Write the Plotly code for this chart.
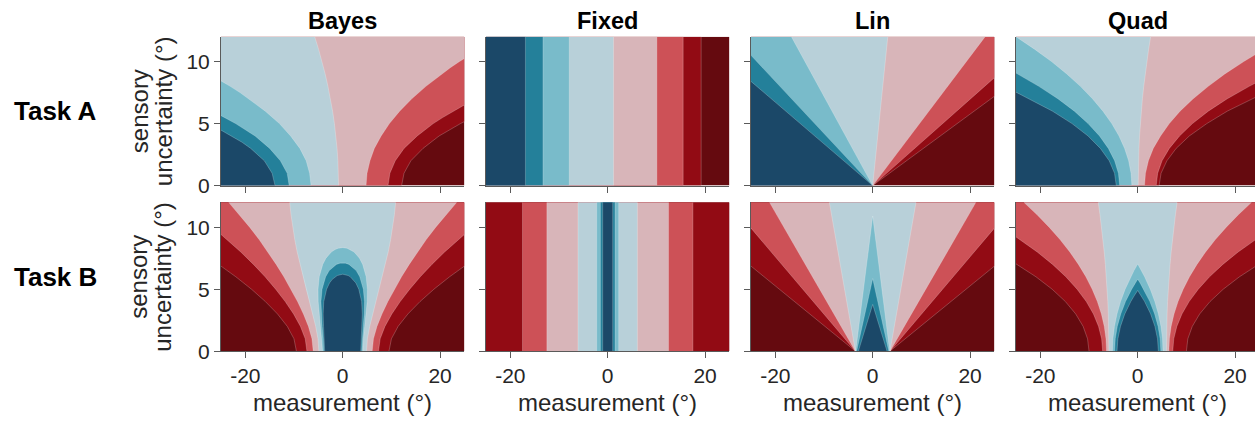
import plotly.graph_objects as go

# ---------------------------------------------------------------------------
# Decision-region maps: response (category x confidence) as a function of the
# measurement (x) and the sensory uncertainty (sigma), for four models and two
# tasks.  Each region boundary is given as a list of (measurement, sigma) points.
# ---------------------------------------------------------------------------

MODELS = ["Bayes", "Fixed", "Lin", "Quad"]
TASKS = ["Task A", "Task B"]

X_TICKS = [-20, 0, 20]
X_TICK_LABELS = ["-20", "0", "20"]
Y_TICKS = [0, 5, 10]
Y_TICK_LABELS = ["0", "5", "10"]

# eight responses: category 1 (high -> low confidence), category 2 (low -> high)
RESPONSE_COLORS = ["#1b4868", "#24809a", "#79bbca", "#b8d0d9",
                   "#d8b5b9", "#cd5157", "#920b14", "#650a0f"]

# Task A: boundaries ordered left to right (response k | response k+1)
BAYES_A = [
    [(-13.9, 0), (-14.5, 1), (-16.1, 2), (-18.9, 3), (-20.7, 3.5), (-22.8, 4), (-25, 4.47)],
    [(-11.0, 0), (-11.4, 1), (-12.8, 2), (-15.0, 3), (-18.0, 4), (-19.9, 4.5), (-22.0, 5), (-25, 5.64)],
    [(-6.5, 0), (-6.8, 1), (-7.5, 2), (-8.8, 3), (-10.7, 4), (-13.0, 5), (-15.9, 6), (-19.2, 7),
     (-21.1, 7.5), (-23.1, 8), (-25, 8.44)],
    [(-0.85, 0), (-0.88, 1), (-0.99, 2), (-1.16, 3), (-1.39, 4), (-1.70, 5), (-2.07, 6), (-2.52, 7),
     (-3.03, 8), (-3.60, 9), (-4.25, 10), (-4.96, 11), (-5.75, 12)],
    [(4.8, 0), (5.0, 1), (5.6, 2), (6.5, 3), (7.9, 4), (9.6, 5), (11.7, 6), (14.2, 7), (17.1, 8),
     (20.4, 9), (22.1, 9.5), (24.0, 10), (25, 10.25)],
    [(9.3, 0), (9.7, 1), (10.8, 2), (12.6, 3), (15.3, 4), (18.6, 5), (20.6, 5.5), (22.7, 6), (25, 6.5)],
    [(12.1, 0), (12.6, 1), (14.0, 2), (16.5, 3), (19.8, 4), (21.9, 4.5), (24.2, 5), (25, 5.16)],
]
FIXED_A = [
    [(-16.9, 0), (-16.9, 12)], [(-13.3, 0), (-13.3, 12)], [(-7.9, 0), (-7.9, 12)],
    [(1.2, 0), (1.2, 12)], [(10.1, 0), (10.1, 12)], [(15.5, 0), (15.5, 12)], [(19.2, 0), (19.2, 12)],
]
LIN_A = [
    [(0, 0), (-25, 8.4)], [(0, 0), (-25, 10.5)], [(0, 0), (-16.7, 12)], [(0, 0), (3.1, 12)],
    [(0, 0), (23.1, 12)], [(0, 0), (25, 8.7)], [(0, 0), (25, 7.2)],
]
QUAD_A = [
    [(-4.4, 0), (-4.76, 1), (-5.85, 2), (-7.67, 3), (-10.2, 4), (-13.5, 5), (-17.5, 6), (-22.2, 7), (-25, 7.53)],
    [(-3.7, 0), (-3.96, 1), (-4.74, 2), (-6.03, 3), (-7.84, 4), (-10.2, 5), (-13.0, 6), (-16.4, 7),
     (-20.3, 8), (-25, 9.07)],
    [(-1.2, 0), (-1.37, 1), (-1.86, 2), (-2.69, 3), (-3.84, 4), (-5.33, 5), (-7.14, 6), (-9.29, 7),
     (-11.76, 8), (-14.57, 9), (-17.7, 10), (-21.2, 11), (-25, 12)],
    [(0.1, 0), (0.12, 1), (0.17, 2), (0.26, 3), (0.38, 4), (0.55, 5), (0.74, 6), (0.97, 7),
     (1.24, 8), (1.54, 9), (1.88, 10), (2.25, 11), (2.66, 12)],
    [(1.4, 0), (1.6, 1), (2.2, 2), (3.2, 3), (4.7, 4), (6.5, 5), (8.7, 6), (11.4, 7), (14.5, 8),
     (17.9, 9), (21.8, 10), (25, 10.76)],
    [(3.8, 0), (4.1, 1), (5.0, 2), (6.5, 3), (8.6, 4), (11.25, 5), (14.5, 6), (18.4, 7), (22.9, 8), (25, 8.43)],
    [(4.4, 0), (4.8, 1), (6.0, 2), (7.9, 3), (10.6, 4), (14.2, 5), (18.4, 6), (23.5, 7), (25, 7.27)],
]

# Task B: symmetric about zero; right half of each boundary, inner to outer.
# None means the boundary lies outside the plotted range.
BAYES_B = [
    [(3.70, 0), (3.78, 1), (3.93, 2), (4.02, 3), (3.89, 4), (3.31, 5), (2.71, 5.5), (2.13, 5.8),
     (1.55, 6.0), (1.12, 6.1), (0, 6.21)],
    [(3.91, 0), (4.00, 1), (4.22, 2), (4.42, 3), (4.47, 4), (4.24, 5), (3.50, 6), (2.77, 6.5),
     (1.29, 7.0), (0.55, 7.1), (0, 7.12)],
    [(4.13, 0), (4.24, 1), (4.52, 2), (4.82, 3), (5.04, 4), (5.07, 5), (4.82, 6), (4.10, 7),
     (3.44, 7.5), (2.33, 8.0), (1.55, 8.2), (0.89, 8.3), (0, 8.35)],
    [(4.90, 0), (5.08, 1), (5.55, 2), (6.18, 3), (6.86, 4), (7.53, 5), (8.18, 6), (8.79, 7),
     (9.35, 8), (9.85, 9), (10.27, 10), (10.62, 11), (10.88, 12)],
    [(6.06, 0), (6.32, 1), (7.04, 2), (8.07, 3), (9.28, 4), (10.63, 5), (12.09, 6), (13.67, 7),
     (15.36, 8), (17.17, 9), (19.12, 10), (21.21, 11), (23.43, 12)],
    [(7.35, 0), (7.70, 1), (8.68, 2), (10.09, 3), (11.81, 4), (13.77, 5), (15.94, 6), (18.33, 7),
     (20.94, 8), (23.77, 9), (25, 9.41)],
    [(9.51, 0), (10.01, 1), (11.38, 2), (13.39, 3), (15.88, 4), (18.74, 5), (21.96, 6),
     (23.69, 6.5), (25, 6.86)],
]
FIXED_B = [
    [(1.03, 0), (1.03, 12)], [(1.5, 0), (1.5, 12)], [(2.26, 0), (2.26, 12)], [(6.1, 0), (6.1, 12)],
    [(12.5, 0), (12.5, 12)], [(17.5, 0), (17.5, 12)], None,
]
LIN_B = [
    [(2.95, 0), (0, 3.77)], [(3.3, 0), (0, 5.86)], [(3.5, 0), (0, 10.9)], [(3.55, 0), (8.9, 12)],
    [(3.55, 0), (21.2, 12)], [(3.55, 0), (25, 9.92)], [(3.55, 0), (25, 6.86)],
]
QUAD_B = [
    [(4.25, 0), (4.07, 1), (3.54, 2), (2.66, 3), (1.42, 4), (0.67, 4.5), (0, 4.9)],
    [(4.75, 0), (4.61, 1), (4.19, 2), (3.48, 3), (2.50, 4), (1.23, 5), (0.49, 5.5), (0, 5.81)],
    [(5.2, 0), (5.10, 1), (4.78, 2), (4.26, 3), (3.52, 4), (2.58, 5), (1.42, 6), (0.76, 6.5), (0, 7.04)],
    [(5.9, 0), (5.92, 1), (5.96, 2), (6.04, 3), (6.14, 4), (6.28, 5), (6.45, 6), (6.65, 7),
     (6.88, 8), (7.14, 9), (7.43, 10), (7.75, 11), (8.10, 12)],
    [(6.4, 0), (6.52, 1), (6.87, 2), (7.46, 3), (8.29, 4), (9.35, 5), (10.65, 6), (12.18, 7),
     (13.95, 8), (15.96, 9), (18.2, 10), (20.68, 11), (23.39, 12)],
    [(7.2, 0), (7.41, 1), (8.04, 2), (9.09, 3), (10.56, 4), (12.45, 5), (14.76, 6), (17.49, 7),
     (20.64, 8), (24.21, 9), (25, 9.21)],
    [(10.0, 0), (10.3, 1), (11.21, 2), (12.73, 3), (14.85, 4), (17.58, 5), (20.91, 6), (24.85, 7), (25, 7.04)],
]

PANELS = [[BAYES_A, FIXED_A, LIN_A, QUAD_A], [BAYES_B, FIXED_B, LIN_B, QUAD_B]]

X_MIN, X_MAX = -25, 25
Y_MIN, Y_MAX = 0, 12

# ---- figure geometry (pixels) ----
W, H = 1255, 427
COL_LEFT = [221, 486, 751, 1016]
PANEL_W = 243.4
ROW_TOP = [37.7, 207.7]
PANEL_H = 152.8
PX_PER_UNIT = PANEL_W / (X_MAX - X_MIN)

FONT = "Liberation Sans, Arial, Helvetica, sans-serif"
AXIS_GREY = "#5a5a5a"
TEXT_GREY = "#262626"
SEAM = "rgba(255,255,255,0.28)"


def left_region(pts):
    """Polygon of everything left of a Task A boundary."""
    poly = list(pts)
    x_end, _ = pts[-1]
    if x_end >= X_MAX:
        poly.append((X_MAX, Y_MAX))
    if x_end > X_MIN:
        poly.append((X_MIN, Y_MAX))
    poly.append((X_MIN, Y_MIN))
    return poly


def inner_region(pts):
    """Polygon of everything between the two mirrored halves of a Task B boundary."""
    if pts is None:
        return [(X_MIN, Y_MIN), (X_MAX, Y_MIN), (X_MAX, Y_MAX), (X_MIN, Y_MAX)]
    right = list(pts)
    x_end, _ = right[-1]
    top = [(X_MAX, Y_MAX), (X_MIN, Y_MAX)] if x_end >= X_MAX else []
    left = [(-x, y) for x, y in reversed(right)]
    return right + top + left


def seam_path(pts, mirrored):
    """Boundary line(s) drawn as a faint seam between neighbouring regions."""
    if pts is None:
        return [], []
    xs = [p[0] for p in pts]
    ys = [p[1] for p in pts]
    if mirrored:
        if xs[-1] == 0:  # closed dome: one continuous path
            xs = xs + [-x for x in reversed(xs)]
            ys = ys + list(reversed(ys))
        else:
            xs = xs + [None] + [-x for x in xs]
            ys = ys + [None] + ys
    return xs, ys


fig = go.Figure()
layout = {}

for r, row in enumerate(PANELS):
    for c, bounds in enumerate(row):
        idx = r * 4 + c + 1
        xa = "x" if idx == 1 else f"x{idx}"
        ya = "y" if idx == 1 else f"y{idx}"

        full = [(X_MIN, Y_MIN), (X_MAX, Y_MIN), (X_MAX, Y_MAX), (X_MIN, Y_MAX)]
        polys = [(full, RESPONSE_COLORS[7])]
        for k in range(6, -1, -1):
            poly = left_region(bounds[k]) if r == 0 else inner_region(bounds[k])
            polys.append((poly, RESPONSE_COLORS[k]))

        for poly, col in polys:
            xs = [p[0] for p in poly] + [poly[0][0]]
            ys = [p[1] for p in poly] + [poly[0][1]]
            fig.add_trace(go.Scatter(
                x=xs, y=ys, mode="lines", fill="toself", fillcolor=col,
                line=dict(width=0, color=col), hoverinfo="skip", showlegend=False,
                xaxis=xa, yaxis=ya))

        seam_x, seam_y = [], []
        for b in bounds:
            sx, sy = seam_path(b, mirrored=(r == 1))
            if sx:
                seam_x += sx + [None]
                seam_y += sy + [None]
        fig.add_trace(go.Scatter(x=seam_x, y=seam_y, mode="lines", line=dict(width=0.8, color=SEAM),
                                 hoverinfo="skip", showlegend=False, xaxis=xa, yaxis=ya))

        left_px = COL_LEFT[c]
        right_px = min(left_px + PANEL_W, W)
        x_hi = X_MIN + (right_px - left_px) / PX_PER_UNIT
        top_px = ROW_TOP[r]
        bot_px = top_px + PANEL_H

        axis_common = dict(showline=True, linecolor=AXIS_GREY, linewidth=1,
                           ticks="outside", ticklen=6, tickwidth=1, tickcolor=AXIS_GREY,
                           showgrid=False, zeroline=False, fixedrange=True,
                           tickfont=dict(family=FONT, size=21, color=TEXT_GREY))
        layout["xaxis" if idx == 1 else f"xaxis{idx}"] = dict(
            axis_common, domain=[left_px / W, right_px / W], range=[X_MIN, x_hi],
            anchor=ya, tickvals=X_TICKS, ticktext=X_TICK_LABELS,
            showticklabels=(r == 1))
        layout["yaxis" if idx == 1 else f"yaxis{idx}"] = dict(
            axis_common, domain=[1 - bot_px / H, 1 - top_px / H], range=[Y_MIN, Y_MAX],
            anchor=xa, tickvals=Y_TICKS, ticktext=Y_TICK_LABELS,
            showticklabels=(c == 0))

annotations = []
for c, name in enumerate(MODELS):
    cx = COL_LEFT[c] + PANEL_W / 2
    annotations.append(dict(text=f"<b>{name}</b>", x=cx / W, y=1 - 22 / H, xref="paper", yref="paper",
                            xanchor="center", yanchor="middle", showarrow=False,
                            font=dict(family=FONT, size=23.5, color="black")))
    annotations.append(dict(text="measurement (°)", x=cx / W, y=1 - 413 / H, xref="paper", yref="paper",
                            xanchor="center", yanchor="middle", showarrow=False,
                            font=dict(family=FONT, size=24, color=TEXT_GREY)))
for r, task in enumerate(TASKS):
    cy = ROW_TOP[r] + PANEL_H / 2
    annotations.append(dict(text=f"<b>{task}</b>", x=55 / W, y=1 - cy / H, xref="paper", yref="paper",
                            xanchor="center", yanchor="middle", showarrow=False,
                            font=dict(family=FONT, size=26, color="black")))
    for txt, px in (("sensory", 139), ("uncertainty (°)", 163)):
        annotations.append(dict(text=txt, x=px / W, y=1 - cy / H, xref="paper", yref="paper",
                                xanchor="center", yanchor="middle", textangle=-90, showarrow=False,
                                font=dict(family=FONT, size=24, color=TEXT_GREY)))

fig.update_layout(
    width=W, height=H, margin=dict(l=0, r=0, t=0, b=0),
    paper_bgcolor="white", plot_bgcolor="white",
    annotations=annotations, **layout)

fig.write_html("out.html")
